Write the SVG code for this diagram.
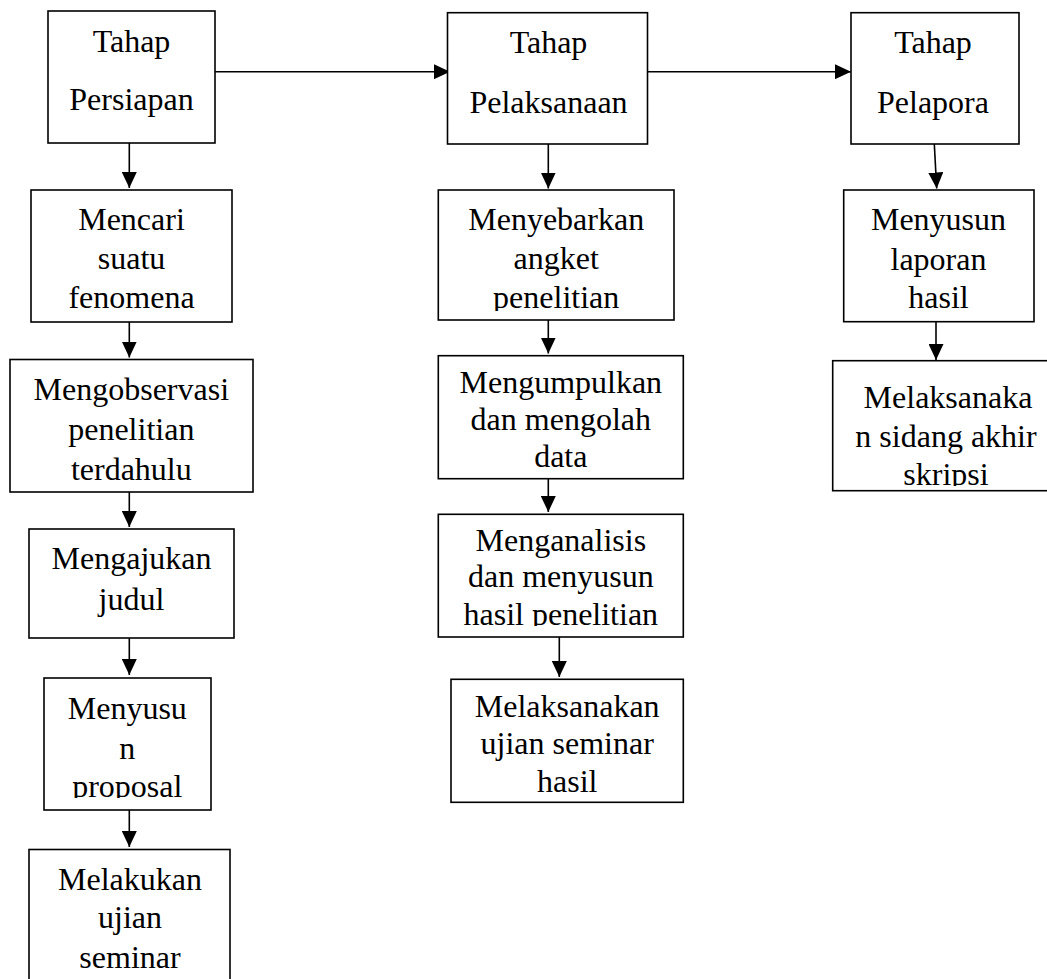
<svg xmlns="http://www.w3.org/2000/svg" width="1047" height="979" viewBox="0 0 1047 979">
<style>
.box{fill:#fff;stroke:#000;stroke-width:1.6}
.t{font-family:"Liberation Serif","Times New Roman",serif;font-size:32px;fill:#000;text-anchor:middle}
.c{stroke:#000;stroke-width:1.6;fill:none;marker-end:url(#ah)}
</style>
<defs>
<marker id="ah" markerUnits="userSpaceOnUse" markerWidth="16" markerHeight="15" refX="16" refY="7.5" orient="auto">
<path d="M0,0 L16,7.5 L0,15 Z" fill="#000"/>
</marker>
<clipPath id="cp5"><rect x="44" y="678" width="167" height="120"/></clipPath>
<clipPath id="cp8"><rect x="438" y="190" width="236" height="121"/></clipPath>
<clipPath id="cp10"><rect x="438" y="514" width="245" height="112"/></clipPath>
<clipPath id="cp13"><rect x="833" y="361" width="228" height="125"/></clipPath>
</defs>
<rect width="1047" height="979" fill="#fff"/>
<g id="connectors">
<line class="c" x1="215" y1="71.7" x2="450" y2="71.7"/>
<line class="c" x1="648" y1="71.7" x2="851" y2="71.7"/>
<line class="c" x1="129.3" y1="143" x2="129.3" y2="188"/>
<line class="c" x1="129.3" y1="322" x2="129.3" y2="357.5"/>
<line class="c" x1="129.3" y1="492" x2="129.3" y2="527"/>
<line class="c" x1="129.3" y1="638" x2="129.3" y2="675"/>
<line class="c" x1="129.3" y1="810" x2="129.3" y2="847"/>
<line class="c" x1="548.3" y1="144" x2="548.3" y2="188.5"/>
<line class="c" x1="548.3" y1="320" x2="548.3" y2="353.5"/>
<line class="c" x1="548.3" y1="479" x2="548.3" y2="512"/>
<line class="c" x1="559.3" y1="637" x2="559.3" y2="677"/>
<line class="c" x1="934.3" y1="144" x2="936.7" y2="188.5"/>
<line class="c" x1="936" y1="322" x2="936" y2="360"/>
</g>
<g id="n1">
<rect class="box" x="48" y="11" width="167" height="132"/>
<text class="t" x="131.5" y="52">Tahap</text>
<text class="t" x="131.5" y="110">Persiapan</text>
</g>
<g id="n2">
<rect class="box" x="31" y="190" width="201" height="132"/>
<text class="t" x="131.5" y="230">Mencari</text>
<text class="t" x="131.5" y="269">suatu</text>
<text class="t" x="131.5" y="308">fenomena</text>
</g>
<g id="n3">
<rect class="box" x="10" y="359.5" width="243" height="132.5"/>
<text class="t" x="131.3" y="400">Mengobservasi</text>
<text class="t" x="131.3" y="440">penelitian</text>
<text class="t" x="131.3" y="480">terdahulu</text>
</g>
<g id="n4">
<rect class="box" x="29" y="529" width="205" height="109"/>
<text class="t" x="131.5" y="569">Mengajukan</text>
<text class="t" x="131.5" y="610">judul</text>
</g>
<g id="n5">
<rect class="box" x="44" y="678" width="167" height="132"/>
<g clip-path="url(#cp5)">
<text class="t" x="127.3" y="719">Menyusu</text>
<text class="t" x="127.3" y="759">n</text>
<text class="t" x="127.3" y="797">proposal</text>
</g>
</g>
<g id="n6">
<rect class="box" x="29" y="849.5" width="201" height="140"/>
<text class="t" x="130" y="890">Melakukan</text>
<text class="t" x="130" y="928">ujian</text>
<text class="t" x="130" y="968">seminar</text>
</g>
<g id="n7">
<rect class="box" x="447.5" y="12.7" width="200" height="131.3"/>
<text class="t" x="548.5" y="53">Tahap</text>
<text class="t" x="548.5" y="113">Pelaksanaan</text>
</g>
<g id="n8">
<rect class="box" x="438.3" y="190" width="235.7" height="130"/>
<g clip-path="url(#cp8)">
<text class="t" x="556.2" y="230">Menyebarkan</text>
<text class="t" x="556.2" y="269">angket</text>
<text class="t" x="556.2" y="308">penelitian</text>
</g>
</g>
<g id="n9">
<rect class="box" x="438.3" y="355.7" width="245" height="123"/>
<text class="t" x="560.8" y="392.7">Mengumpulkan</text>
<text class="t" x="560.8" y="430">dan mengolah</text>
<text class="t" x="560.8" y="466.7">data</text>
</g>
<g id="n10">
<rect class="box" x="438.3" y="514.3" width="245" height="122.7"/>
<g clip-path="url(#cp10)">
<text class="t" x="560.8" y="550.7">Menganalisis</text>
<text class="t" x="560.8" y="587.3">dan menyusun</text>
<text class="t" x="560.8" y="625">hasil penelitian</text>
</g>
</g>
<g id="n11">
<rect class="box" x="451" y="679.3" width="232.3" height="123"/>
<text class="t" x="567.2" y="716.7">Melaksanakan</text>
<text class="t" x="567.2" y="754">ujian seminar</text>
<text class="t" x="567.2" y="791.7">hasil</text>
</g>
<g id="n12">
<rect class="box" x="851" y="12.7" width="168" height="131.3"/>
<text class="t" x="933" y="53">Tahap</text>
<text class="t" x="933" y="113">Pelapora</text>
</g>
<g id="n13">
<rect class="box" x="843.7" y="190" width="190.3" height="131.7"/>
<text class="t" x="938.5" y="230">Menyusun</text>
<text class="t" x="938.5" y="270">laporan</text>
<text class="t" x="938.5" y="308">hasil</text>
</g>
<g id="n14">
<rect class="box" x="832.7" y="360.7" width="228" height="130"/>
<g clip-path="url(#cp13)">
<text class="t" x="948" y="408.3">Melaksanaka</text>
<text class="t" x="946" y="446.7">n sidang akhir</text>
<text class="t" x="946" y="485">skripsi</text>
</g>
</g>
</svg>
